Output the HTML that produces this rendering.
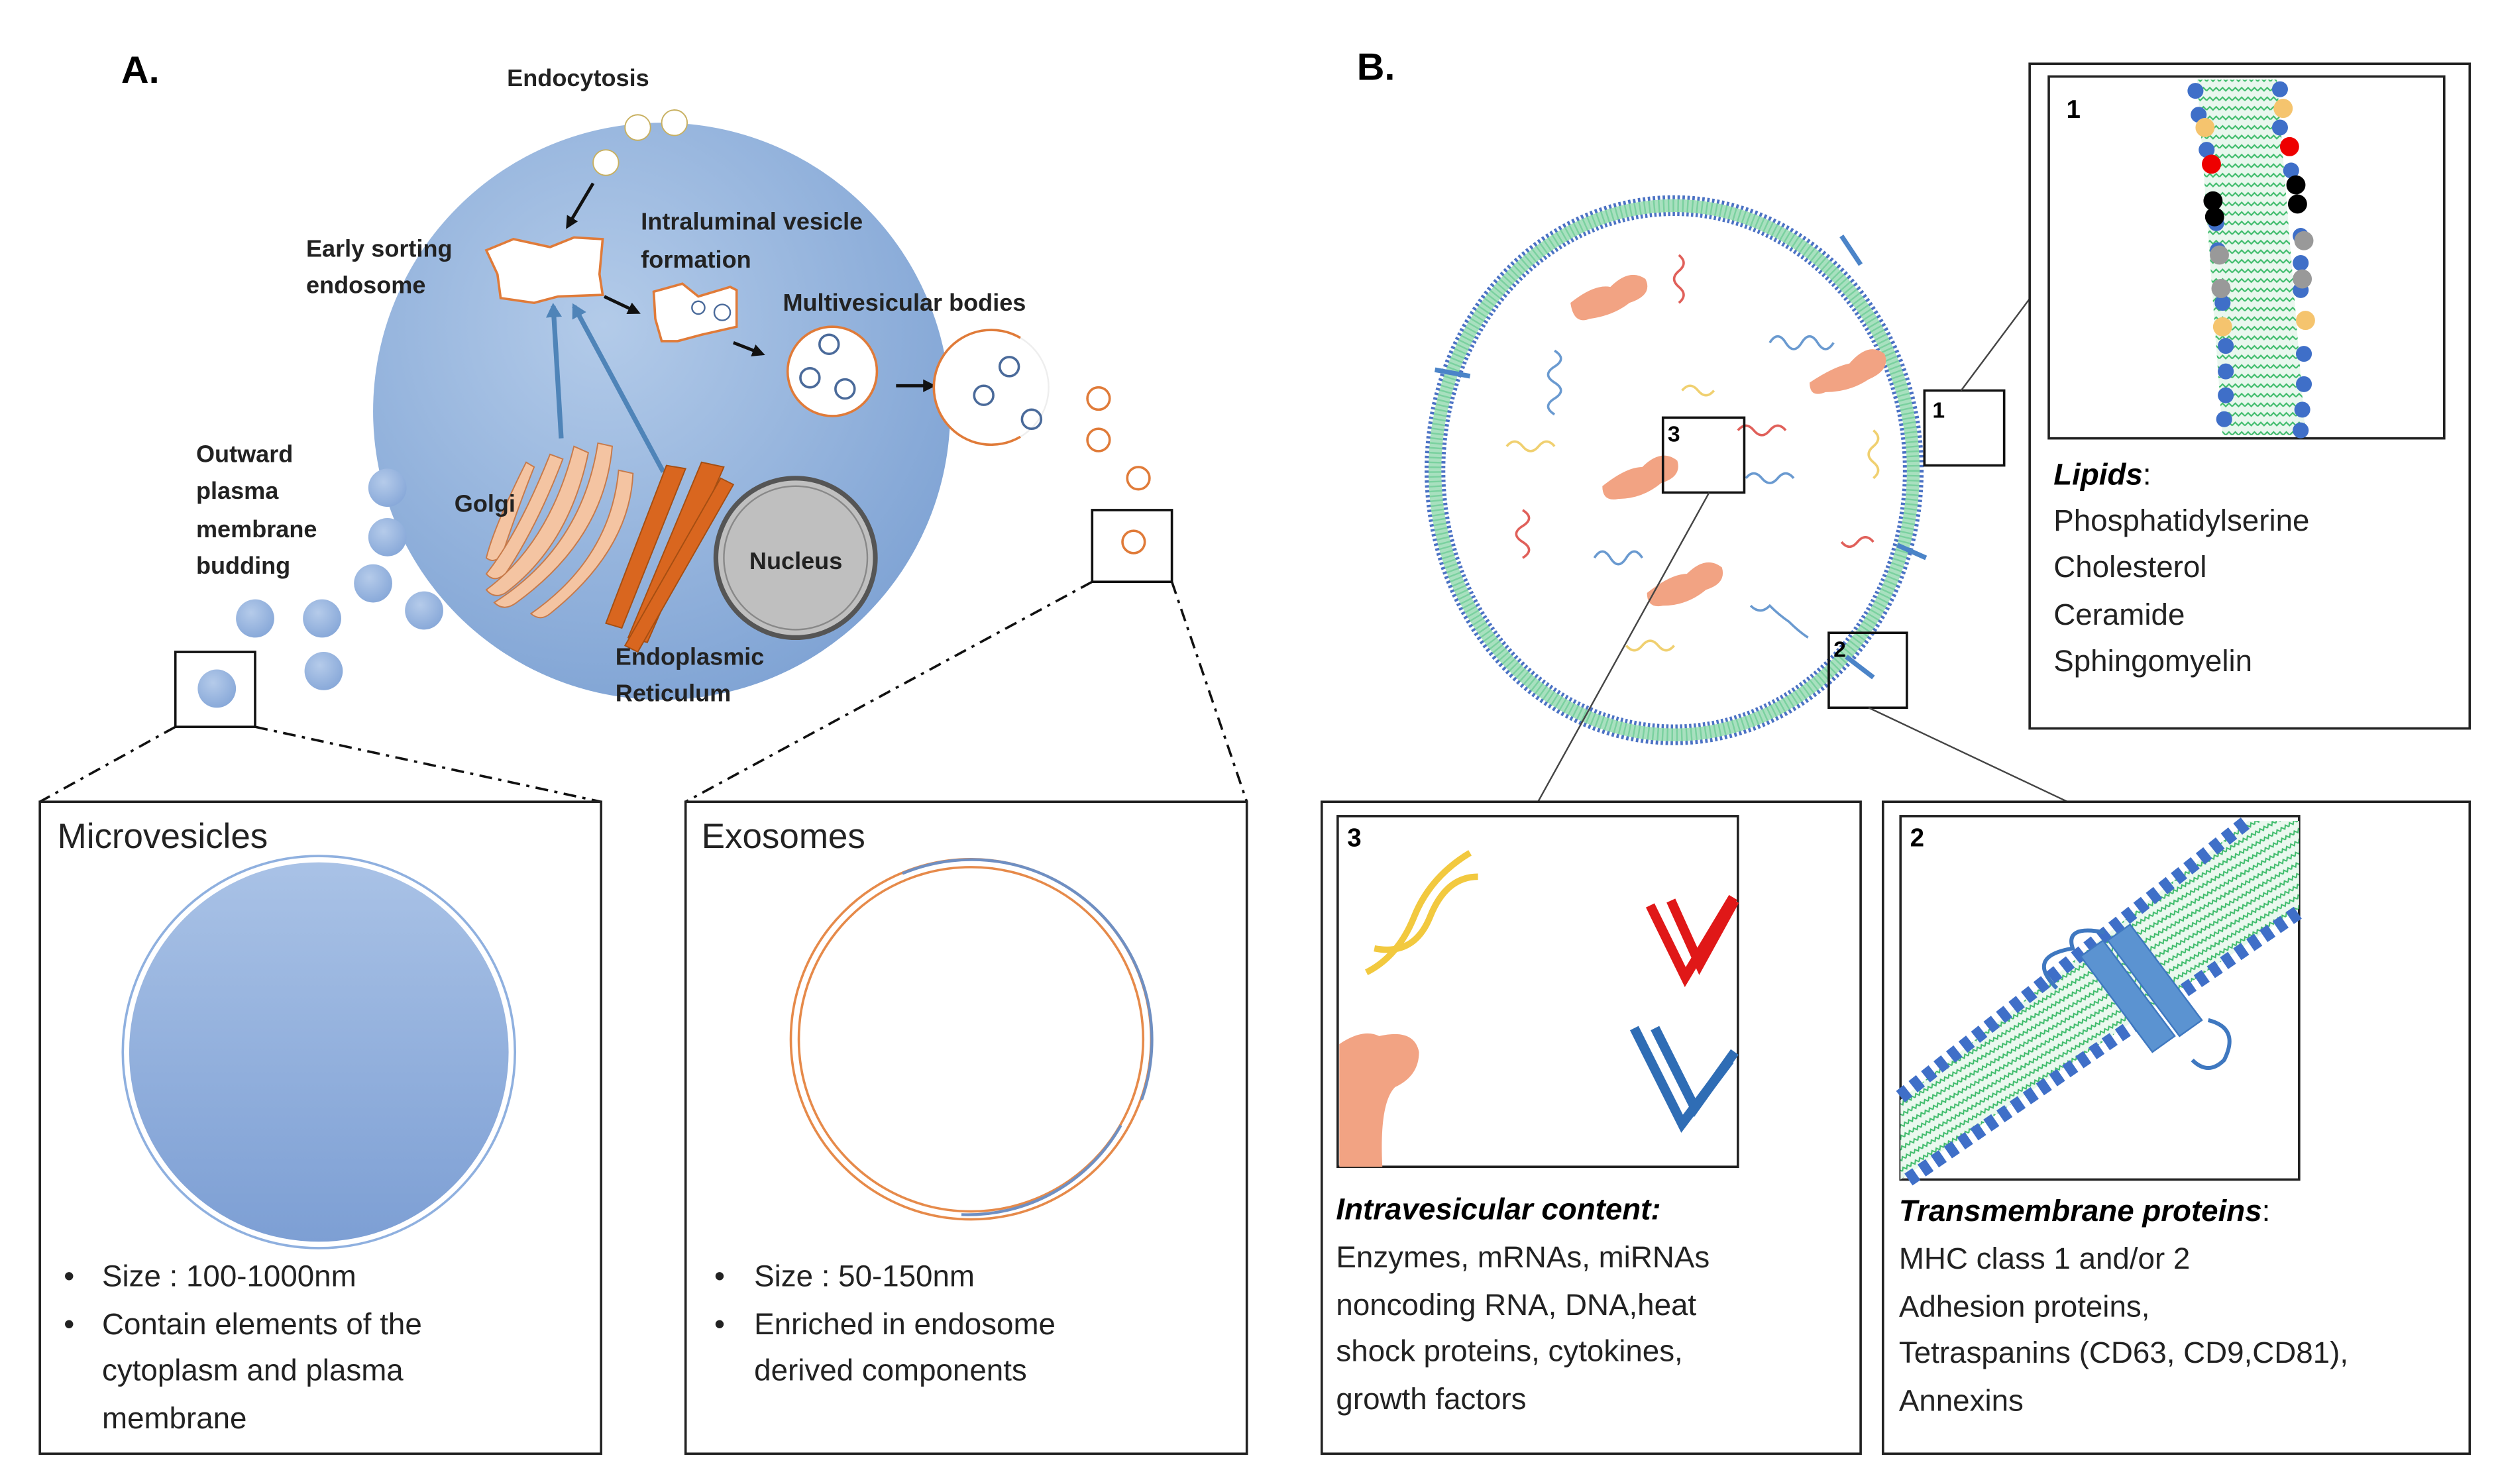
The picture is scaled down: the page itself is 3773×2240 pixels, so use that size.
<!DOCTYPE html>
<html><head><meta charset="utf-8"><style>
html,body{margin:0;padding:0;background:#fff}
svg{display:block}
text{font-family:"Liberation Sans","DejaVu Sans",sans-serif}
</style></head><body>
<svg width="3773" height="2240" viewBox="0 0 1568 931" preserveAspectRatio="none" xmlns="http://www.w3.org/2000/svg">
<defs>
<radialGradient id="cell" cx="0.4" cy="0.35" r="0.7">
<stop offset="0" stop-color="#b3cbe9"/><stop offset="1" stop-color="#7fa3d4"/></radialGradient>
<linearGradient id="mv" x1="0" y1="0" x2="0" y2="1">
<stop offset="0" stop-color="#a9c2e6"/><stop offset="1" stop-color="#7d9fd4"/></linearGradient>
<radialGradient id="ves" cx="0.4" cy="0.35" r="0.7"><stop offset="0" stop-color="#b5cbea"/><stop offset="1" stop-color="#86a7d8"/></radialGradient>
<pattern id="zig" width="8" height="6" patternUnits="userSpaceOnUse">
<rect width="8" height="6" fill="#e9f7ee"/>
<path d="M0 3 L2 1 L4 3 L6 1 L8 3" stroke="#3dbb6a" stroke-width="0.9" fill="none"/></pattern>
<pattern id="zig2" width="6" height="6" patternUnits="userSpaceOnUse" patternTransform="rotate(-30)">
<rect width="6" height="6" fill="#eaf8ee"/>
<path d="M0 3 L1.5 1 L3 3 L4.5 1 L6 3" stroke="#3dbb6a" stroke-width="0.8" fill="none"/></pattern>
<marker id="ah" markerWidth="8" markerHeight="8" refX="6" refY="4" orient="auto" markerUnits="userSpaceOnUse"><path d="M0 0 L8 4 L0 8z" fill="#111"/></marker>
<marker id="bh" markerWidth="10" markerHeight="10" refX="7" refY="5" orient="auto" markerUnits="userSpaceOnUse"><path d="M0 0 L9 5 L0 10z" fill="#4f84b8"/></marker>
</defs>

<!-- ================= PANEL A ================= -->
<text x="76" y="52" font-size="24" font-weight="bold">A.</text>

<circle cx="415" cy="258" r="181" fill="url(#cell)"/>
<circle cx="420" cy="48" r="14" fill="#fff" opacity="0.9"/>
<circle cx="400" cy="80" r="8" fill="#fff" stroke="#c8b060" stroke-width="0.8"/>
<circle cx="423" cy="77" r="8" fill="#fff" stroke="#c8b060" stroke-width="0.8"/>
<circle cx="380" cy="102" r="8" fill="#fff" stroke="#c8b060" stroke-width="0.8"/>
<line x1="372" y1="115" x2="356" y2="142" stroke="#111" stroke-width="2" marker-end="url(#ah)"/>
<text x="318" y="54" font-size="15" font-weight="bold" fill="#222">Endocytosis</text>

<path d="M305 157 L322 150 L345 155 L360 149 L378 150 L376 172 L378 185 L350 186 L335 190 L314 187 L312 172z" fill="#fff" stroke="#e07b39" stroke-width="1.5"/>
<text x="192" y="161" font-size="15" font-weight="bold" fill="#222">Early sorting</text>
<text x="192" y="184" font-size="15" font-weight="bold" fill="#222">endosome</text>
<line x1="379" y1="186" x2="400" y2="196" stroke="#111" stroke-width="2" marker-end="url(#ah)"/>
<path d="M410 183 L428 178 L438 186 L458 180 L462 182 L462 205 L440 210 L425 214 L415 214 L411 200z" fill="#fff" stroke="#e07b39" stroke-width="1.5"/>
<circle cx="438" cy="193" r="4" fill="none" stroke="#4a6a9a"/><circle cx="453" cy="196" r="5" fill="none" stroke="#4a6a9a"/>
<text x="402" y="144" font-size="15" font-weight="bold" fill="#222">Intraluminal vesicle</text>
<text x="402" y="168" font-size="15" font-weight="bold" fill="#222">formation</text>
<line x1="460" y1="215" x2="478" y2="222" stroke="#111" stroke-width="2" marker-end="url(#ah)"/>
<circle cx="522" cy="233" r="28" fill="#fff" stroke="#e07b39" stroke-width="1.5"/>
<circle cx="520" cy="216" r="6" fill="none" stroke="#4a6a9a" stroke-width="1.5"/>
<circle cx="508" cy="237" r="6" fill="none" stroke="#4a6a9a" stroke-width="1.5"/>
<circle cx="530" cy="244" r="6" fill="none" stroke="#4a6a9a" stroke-width="1.5"/>
<text x="491" y="195" font-size="15" font-weight="bold" fill="#222">Multivesicular bodies</text>
<line x1="562" y1="242" x2="585" y2="242" stroke="#111" stroke-width="2" marker-end="url(#ah)"/>
<path d="M640 212 A36 36 0 1 0 640 274" fill="#fff" stroke="#e07b39" stroke-width="1.5"/>
<path d="M640 212 A36 36 0 0 1 640 274" fill="#fff" stroke="#eee" stroke-width="1"/>
<circle cx="633" cy="230" r="6" fill="none" stroke="#4a6a9a" stroke-width="1.5"/>
<circle cx="617" cy="248" r="6" fill="none" stroke="#4a6a9a" stroke-width="1.5"/>
<circle cx="647" cy="263" r="6" fill="none" stroke="#4a6a9a" stroke-width="1.5"/>
<circle cx="689" cy="250" r="7" fill="#fff" stroke="#e07b39" stroke-width="1.5"/>
<circle cx="689" cy="276" r="7" fill="#fff" stroke="#e07b39" stroke-width="1.5"/>
<circle cx="714" cy="300" r="7" fill="#fff" stroke="#e07b39" stroke-width="1.5"/>

<line x1="352" y1="275" x2="347" y2="192" stroke="#4f84b8" stroke-width="3" marker-end="url(#bh)"/>
<line x1="416" y1="296" x2="360" y2="192" stroke="#4f84b8" stroke-width="3" marker-end="url(#bh)"/>

<g fill="#f4c4a2" stroke="#c77a4a" stroke-width="0.8">
<path d="M330 290 q-20 40 -25 60 q5 4 10 -2 q10 -30 20 -55z"/>
<path d="M345 285 q-20 50 -40 75 q5 6 12 0 q20 -30 36 -72z"/>
<path d="M360 280 q-15 60 -55 90 q5 6 12 2 q40 -30 52 -88z"/>
<path d="M375 278 q-10 65 -65 100 q6 6 14 0 q55 -40 60 -98z"/>
<path d="M388 295 q-5 55 -55 90 q6 5 12 0 q50 -40 52 -88z"/>
</g>
<text x="285" y="321" font-size="15" font-weight="bold" fill="#222">Golgi</text>
<g fill="#d9661f" stroke="#a54e12" stroke-width="0.8">
<path d="M418 292 l12 2 l-40 100 l-10 -3z"/>
<path d="M440 290 l14 3 l-48 110 l-12 -3z"/>
<path d="M452 300 l8 4 l-60 105 l-8 -4z"/>
</g>
<circle cx="499" cy="350" r="50" fill="#bfbfbf" stroke="#555" stroke-width="3"/>
<circle cx="499" cy="350" r="45" fill="none" stroke="#888" stroke-width="1"/>
<text x="470" y="357" font-size="15" font-weight="bold" fill="#222">Nucleus</text>
<text x="386" y="417" font-size="15" font-weight="bold" fill="#222">Endoplasmic</text>
<text x="386" y="440" font-size="15" font-weight="bold" fill="#222">Reticulum</text>

<g fill="url(#ves)">
<circle cx="243" cy="306" r="12"/><circle cx="243" cy="337" r="12"/><circle cx="234" cy="366" r="12"/>
<circle cx="266" cy="383" r="12"/><circle cx="160" cy="388" r="12"/><circle cx="202" cy="388" r="12"/>
<circle cx="203" cy="421" r="12"/><circle cx="136" cy="432" r="12"/>
</g>
<text x="123" y="290" font-size="15" font-weight="bold" fill="#222">Outward</text>
<text x="123" y="313" font-size="15" font-weight="bold" fill="#222">plasma</text>
<text x="123" y="337" font-size="15" font-weight="bold" fill="#222">membrane</text>
<text x="123" y="360" font-size="15" font-weight="bold" fill="#222">budding</text>

<rect x="110" y="409" width="50" height="47" fill="none" stroke="#111" stroke-width="1.5"/>
<rect x="685" y="320" width="50" height="45" fill="none" stroke="#111" stroke-width="1.5"/>
<circle cx="711" cy="340" r="7" fill="#fff" stroke="#e07b39" stroke-width="1.5"/>
<g stroke="#111" stroke-width="1.5" stroke-dasharray="8,4,2,4" fill="none">
<line x1="110" y1="456" x2="25" y2="503"/><line x1="160" y1="456" x2="377" y2="503"/>
<line x1="685" y1="365" x2="430" y2="503"/><line x1="735" y1="365" x2="782" y2="503"/>
</g>

<rect x="25" y="503" width="352" height="409" fill="#fff" stroke="#222" stroke-width="1.5"/>
<text x="36" y="532" font-size="22" fill="#222">Microvesicles</text>
<circle cx="200" cy="660" r="123" fill="none" stroke="#8fb0df" stroke-width="1.5"/>
<circle cx="200" cy="660" r="119" fill="url(#mv)"/>
<g font-size="19" fill="#222">
<text x="40" y="807">•</text><text x="64" y="807">Size : 100-1000nm</text>
<text x="40" y="837">•</text><text x="64" y="837">Contain elements of the</text>
<text x="64" y="866">cytoplasm and plasma</text>
<text x="64" y="896">membrane</text>
</g>

<rect x="430" y="503" width="352" height="409" fill="#fff" stroke="#222" stroke-width="1.5"/>
<text x="440" y="532" font-size="22" fill="#222">Exosomes</text>
<circle cx="609" cy="652" r="113" fill="none" stroke="#e68a4a" stroke-width="1.5"/>
<circle cx="609" cy="652" r="108" fill="none" stroke="#e68a4a" stroke-width="1.5"/>
<path d="M566 548 A113 113 0 0 1 716 690" fill="none" stroke="#6f8fc2" stroke-width="1.8"/>
<path d="M703 706 A110 110 0 0 1 603 762" fill="none" stroke="#6f8fc2" stroke-width="1.8"/>
<g font-size="19" fill="#222">
<text x="448" y="807">•</text><text x="473" y="807">Size : 50-150nm</text>
<text x="448" y="837">•</text><text x="473" y="837">Enriched in endosome</text>
<text x="473" y="866">derived components</text>
</g>

<!-- ================= PANEL B ================= -->
<text x="851" y="50" font-size="24" font-weight="bold">B.</text>
<ellipse cx="1050" cy="295" rx="150" ry="166" fill="none" stroke="#4b72c4" stroke-width="13" stroke-dasharray="1.5,1.5"/>
<ellipse cx="1050" cy="295" rx="150" ry="166" fill="none" stroke="#a8e0bf" stroke-width="8"/>
<ellipse cx="1050" cy="295" rx="150" ry="166" fill="none" stroke="#5cc78a" stroke-width="8" stroke-dasharray="1,2" opacity="0.6"/>
<g stroke="#4b84c8" stroke-width="3">
<line x1="1155" y1="148" x2="1167" y2="166"/><line x1="900" y1="232" x2="922" y2="236"/>
<line x1="1190" y1="342" x2="1208" y2="350"/><line x1="1158" y1="412" x2="1175" y2="425"/>
</g>
<g fill="#f2a383">
<path d="M985 190 q15 -12 25 -10 q12 -12 22 -5 q5 10 -10 15 q-10 8 -25 10 q-10 4 -12 -10z"/>
<path d="M1135 240 q15 -10 25 -12 q12 -14 22 -6 q4 10 -10 16 q-12 8 -27 8 q-10 4 -10 -6z"/>
<path d="M1005 305 q15 -12 25 -12 q12 -12 22 -4 q3 10 -10 14 q-12 10 -27 10 q-10 2 -10 -8z"/>
<path d="M1033 372 q15 -12 25 -12 q12 -12 22 -4 q3 10 -10 14 q-12 10 -27 10 q-10 2 -10 -8z"/>
</g>
<g fill="none" stroke-width="1.5">
<path d="M1053 160 q6 5 0 10 q-6 5 0 10 q6 5 0 10" stroke="#e0605a"/>
<path d="M1110 215 q5 -8 10 0 q5 8 10 0 q5 -8 10 0 q5 8 10 0" stroke="#6a9ad0"/>
<path d="M975 220 q8 5 0 10 q-8 5 0 10 q8 5 0 10 q-8 5 0 10" stroke="#6a9ad0"/>
<path d="M945 280 q5 -6 10 0 q5 6 10 0 q5 -6 10 0" stroke="#f0d070"/>
<path d="M955 320 q8 5 0 10 q-8 5 0 10 q8 5 0 10" stroke="#e0605a"/>
<path d="M1000 350 q5 -8 10 0 q5 8 10 0 q5 -8 10 0" stroke="#6a9ad0"/>
<path d="M1175 270 q6 5 0 10 q-6 5 0 10 q6 5 0 10" stroke="#f0d070"/>
<path d="M1155 340 q5 6 10 0 q5 -6 10 0" stroke="#e0605a"/>
<path d="M1098 380 q6 6 12 0 q6 6 12 10 q6 6 12 10" stroke="#6a9ad0"/>
<path d="M1020 405 q5 6 10 0 q5 -6 10 0 q5 6 10 0" stroke="#f0d070"/>
<path d="M1090 270 q5 -6 10 0 q5 6 10 0 q5 -6 10 0" stroke="#e0605a"/>
<path d="M1095 300 q5 -6 10 0 q5 6 10 0 q5 -6 10 0" stroke="#6a9ad0"/>
<path d="M1055 245 q5 -6 10 0 q5 6 10 0" stroke="#f0d070"/>
</g>
<rect x="1207" y="245" width="50" height="47" fill="none" stroke="#111" stroke-width="1.5"/>
<text x="1212" y="262" font-size="14" font-weight="bold">1</text>
<rect x="1043" y="262" width="51" height="47" fill="none" stroke="#111" stroke-width="1.5"/>
<text x="1046" y="277" font-size="14" font-weight="bold">3</text>
<rect x="1147" y="397" width="49" height="47" fill="none" stroke="#111" stroke-width="1.5"/>
<text x="1150" y="412" font-size="14" font-weight="bold">2</text>
<g stroke="#444" stroke-width="1">
<line x1="1230" y1="245" x2="1286" y2="170"/>
<line x1="1072" y1="309" x2="958" y2="515"/>
<line x1="1172" y1="444" x2="1318" y2="513"/>
</g>

<rect x="1273" y="40" width="276" height="417" fill="#fff" stroke="#222" stroke-width="1.5"/>
<rect x="1285" y="48" width="248" height="227" fill="#fff" stroke="#222" stroke-width="1.5"/>
<text x="1296" y="74" font-size="16" font-weight="bold">1</text>
<path d="M1378 50 L1428 50 L1446 273 L1394 273z" fill="url(#zig)"/>
<g fill="#3f6fc8">
<circle cx="1377" cy="57" r="5"/><circle cx="1379" cy="72" r="5"/><circle cx="1384" cy="94" r="5"/><circle cx="1390" cy="140" r="5"/><circle cx="1391" cy="157" r="5"/>
<circle cx="1394" cy="190" r="5"/><circle cx="1396" cy="217" r="5"/><circle cx="1396" cy="233" r="5"/><circle cx="1396" cy="248" r="5"/><circle cx="1395" cy="263" r="5"/>
<circle cx="1430" cy="80" r="5"/><circle cx="1437" cy="107" r="5"/><circle cx="1443" cy="148" r="5"/><circle cx="1443" cy="165" r="5"/><circle cx="1443" cy="182" r="5"/>
<circle cx="1445" cy="222" r="5"/><circle cx="1445" cy="241" r="5"/><circle cx="1444" cy="257" r="5"/><circle cx="1443" cy="270" r="5"/><circle cx="1430" cy="56" r="5"/>
</g>
<g fill="#f5c46e"><circle cx="1432" cy="68" r="6"/><circle cx="1383" cy="80" r="6"/><circle cx="1446" cy="201" r="6"/><circle cx="1394" cy="205" r="6"/></g>
<g fill="#e00"><circle cx="1436" cy="92" r="6"/><circle cx="1387" cy="103" r="6"/></g>
<g fill="#000"><circle cx="1440" cy="116" r="6"/><circle cx="1441" cy="128" r="6"/><circle cx="1388" cy="126" r="6"/><circle cx="1389" cy="136" r="6"/></g>
<g fill="#999"><circle cx="1445" cy="151" r="6"/><circle cx="1392" cy="160" r="6"/><circle cx="1444" cy="175" r="6"/><circle cx="1393" cy="181" r="6"/></g>
<text x="1288" y="304" font-size="19" font-weight="bold" font-style="italic">Lipids<tspan font-weight="normal" font-style="normal">:</tspan></text>
<g font-size="19" fill="#222">
<text x="1288" y="333">Phosphatidylserine</text>
<text x="1288" y="362">Cholesterol</text>
<text x="1288" y="392">Ceramide</text>
<text x="1288" y="421">Sphingomyelin</text>
</g>

<rect x="829" y="503" width="338" height="409" fill="#fff" stroke="#222" stroke-width="1.5"/>
<rect x="839" y="512" width="251" height="220" fill="#fff" stroke="#222" stroke-width="1.5"/>
<text x="845" y="531" font-size="16" font-weight="bold">3</text>
<g fill="none" stroke="#f2c93f" stroke-width="4">
<path d="M857 610 q20 -10 30 -35 q10 -25 35 -40"/>
<path d="M862 595 q25 5 35 -20 q10 -25 30 -25"/>
</g>
<g fill="none" stroke="#e01818" stroke-width="6"><path d="M1035 568 l22 45 l30 -50"/><path d="M1048 565 l18 40 l22 -40"/></g>
<g fill="none" stroke="#2f6db5" stroke-width="6"><path d="M1025 645 l30 60 l30 -40"/><path d="M1038 645 l25 50 l25 -35"/></g>
<path d="M840 655 q15 -10 25 -5 q22 -5 25 10 q0 15 -15 22 q-10 10 -8 50 l-27 0z" fill="#f2a383"/>
<text x="838" y="765" font-size="19" font-weight="bold" font-style="italic">Intravesicular content:</text>
<g font-size="19" fill="#222">
<text x="838" y="795">Enzymes, mRNAs, miRNAs</text>
<text x="838" y="825">noncoding RNA, DNA,heat</text>
<text x="838" y="854">shock proteins, cytokines,</text>
<text x="838" y="884">growth factors</text>
</g>

<rect x="1181" y="503" width="368" height="409" fill="#fff" stroke="#222" stroke-width="1.5"/>
<rect x="1192" y="512" width="250" height="228" fill="#fff" stroke="#222" stroke-width="1.5"/>
<text x="1198" y="531" font-size="16" font-weight="bold">2</text>
<path d="M1192 690 L1410 515 L1442 515 L1442 570 L1192 740z" fill="url(#zig2)"/>
<line x1="1192" y1="688" x2="1410" y2="515" stroke="#3f6fc8" stroke-width="9" stroke-dasharray="6,4"/>
<line x1="1197" y1="740" x2="1442" y2="572" stroke="#3f6fc8" stroke-width="9" stroke-dasharray="6,4"/>
<g fill="#5b93d1" stroke="#3f78c0">
<path d="M1305 600 l14 -10 l45 60 l-14 10z"/>
<path d="M1322 590 l14 -10 l45 60 l-14 10z"/>
</g>
<path d="M1290 620 q-20 -20 10 -25 q-5 -15 20 -10 M1385 640 q20 5 10 25 q-10 10 -20 0" stroke="#3f78c0" stroke-width="2.5" fill="none"/>
<text x="1191" y="766" font-size="19" font-weight="bold" font-style="italic">Transmembrane proteins<tspan font-weight="normal" font-style="normal">:</tspan></text>
<g font-size="19" fill="#222">
<text x="1191" y="796">MHC class 1 and/or 2</text>
<text x="1191" y="826">Adhesion proteins,</text>
<text x="1191" y="855">Tetraspanins (CD63, CD9,CD81),</text>
<text x="1191" y="885">Annexins</text>
</g>
</svg>
</body></html>
